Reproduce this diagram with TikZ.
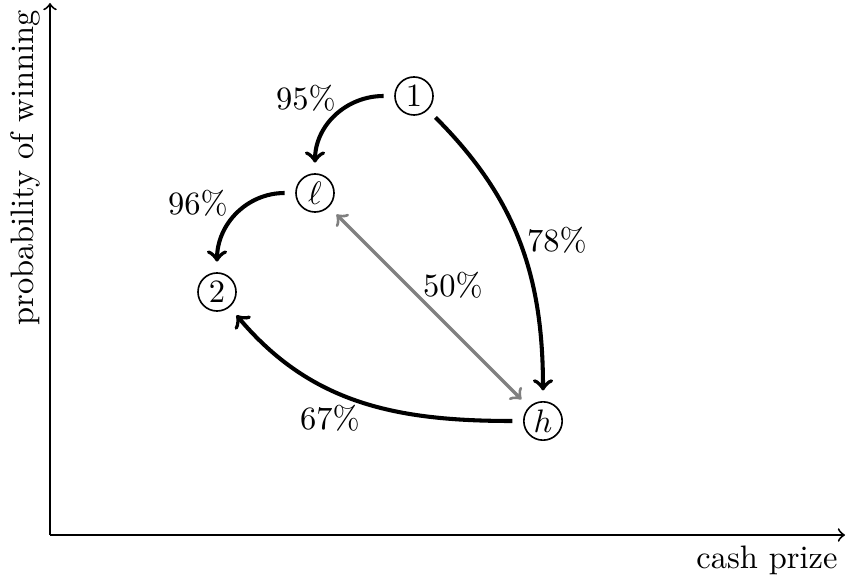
\documentclass[tikz,border=0pt]{standalone}
\begin{document}
\begin{tikzpicture}[x=0.3077pt,y=-0.3077pt,
  st/.style={draw,circle,line width=0.5pt,minimum size=11.7pt,inner sep=1pt,outer sep=3.5pt},
  axisline/.style={line width=0.6pt,->},
  bigarrow/.style={line width=1.25pt,->},
  grayarrow/.style={line width=1pt,<->,gray},
  lab/.style={inner sep=0pt}]
\useasboundingbox (0,0) rectangle (847,578);
\coordinate (O) at (50,535);
\coordinate (Y) at (50,3);
\coordinate (X) at (845,535);
\draw[axisline] (O) -- (Y);
\draw[axisline] (O) -- (X);
\node[rotate=90] (ylab) at (25,168) {probability of winning};
\node (xlab) at (767,560) {cash prize};
\node[st] (n1) at (414,96) {$1$};
\node[st] (nl) at (315,193) {$\ell$};
\node[st] (n2) at (217,292) {$2$};
\node[st] (nh) at (543,421) {$h$};
\draw[bigarrow] (n1.west) to[out=180,in=90] (nl.north);
\draw[bigarrow] (nl.west) to[out=180,in=90] (n2.north);
\draw[bigarrow] (n1.south east) to[out=-45,in=90] (nh.north);
\draw[bigarrow] (nh.west) to[out=180,in=-50] (n2.-50);
\draw[grayarrow] (nl) -- (nh);
\node[lab] (p95) at (306,98) {95\%};
\node[lab] (p96) at (198,203) {96\%};
\node[lab] (p78) at (557,240) {78\%};
\node[lab] (p50) at (453,285) {50\%};
\node[lab] (p67) at (330,418) {67\%};
\end{tikzpicture}
\end{document}
